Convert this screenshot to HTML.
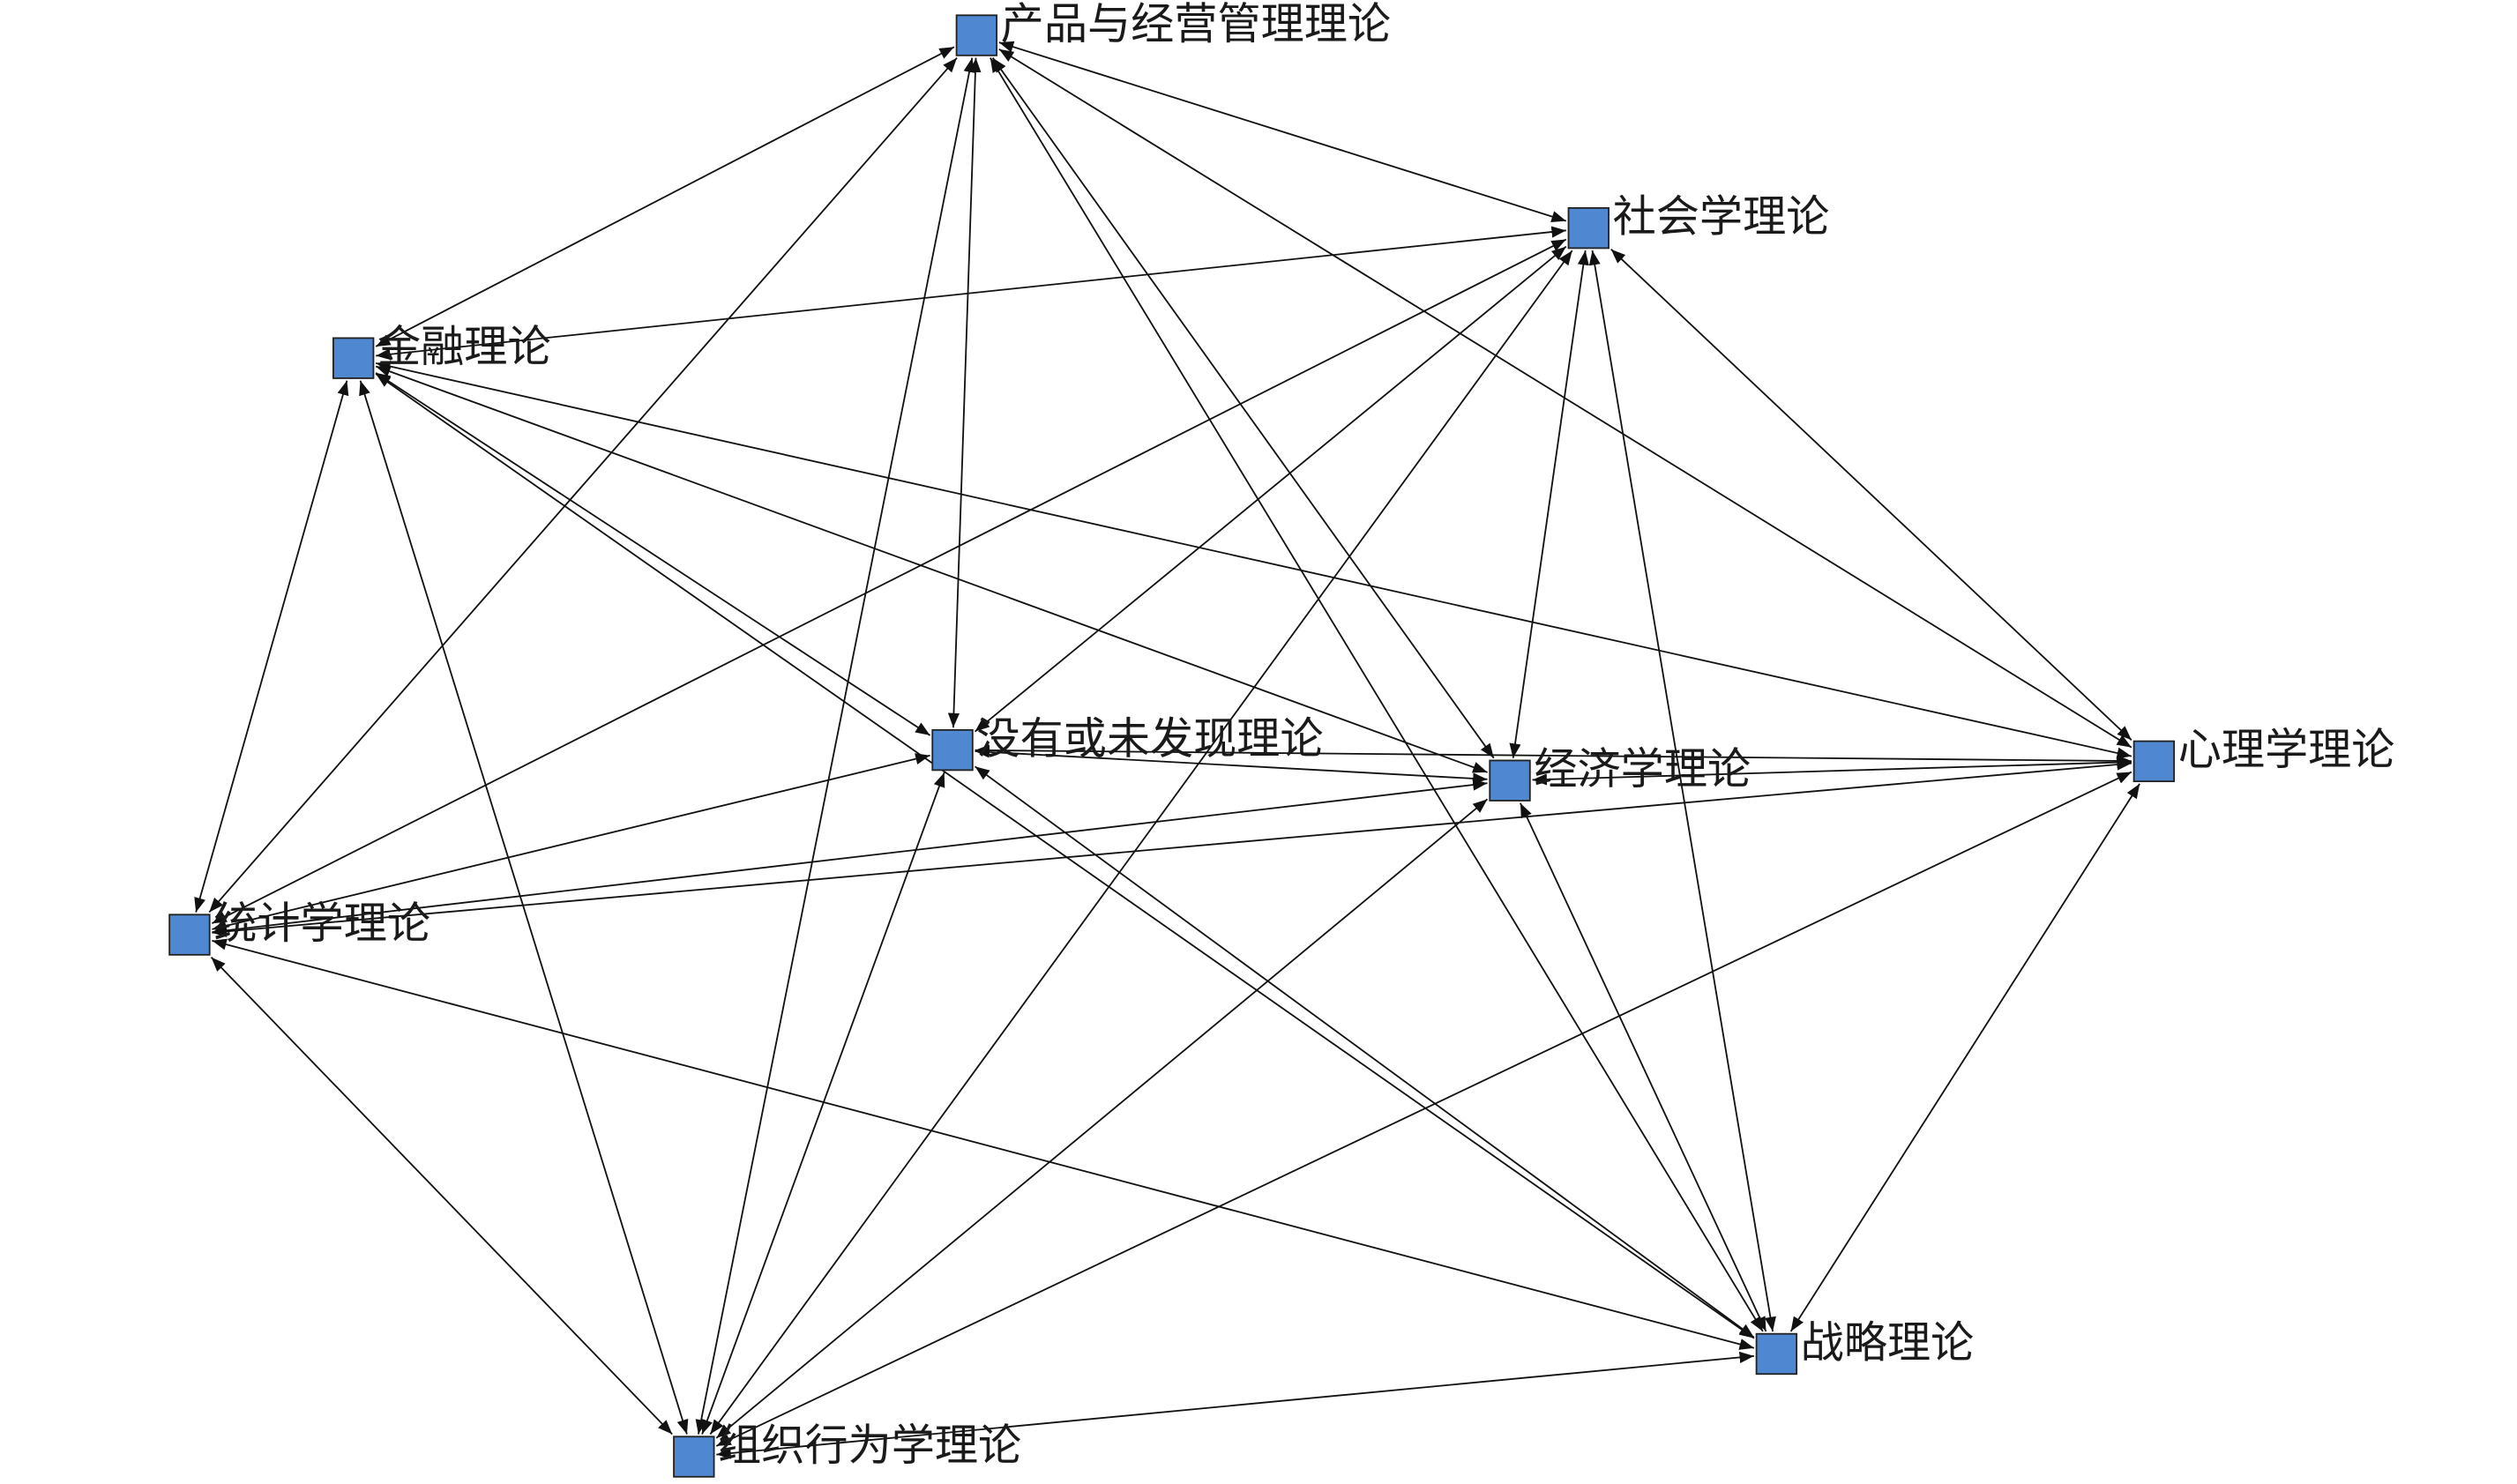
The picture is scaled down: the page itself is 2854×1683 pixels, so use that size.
<!DOCTYPE html>
<html><head><meta charset="utf-8"><style>
html,body{margin:0;padding:0;background:#fff;}
svg{display:block;}
text{font-family:"Liberation Sans","Noto Sans CJK SC","WenQuanYi Zen Hei",sans-serif;font-size:27px;fill:#1a1a1a;dominant-baseline:middle;}
</style></head><body>
<svg id="g" width="2854" height="1683" viewBox="0 0 1567 924" preserveAspectRatio="none" xmlns="http://www.w3.org/2000/svg">
<defs><marker id="a" viewBox="0 0 10 10" refX="10" refY="5" markerWidth="9" markerHeight="9" markerUnits="userSpaceOnUse" orient="auto-start-reverse"><path d="M0,1 L10,5 L0,9 z" fill="#111"/></marker></defs>
<g id="e" stroke="#111" stroke-width="1" fill="none"></g>
<g id="n"></g>
</svg>
<script>
var N=[["产品与经营管理理论",608,22],["社会学理论",989,142],["金融理论",220,223],["没有或未发现理论",593,467],["经济学理论",940,486],["心理学理论",1341,474],["统计学理论",118,582],["战略理论",1106,843],["组织行为学理论",432,907]];
var ns="http://www.w3.org/2000/svg",E=document.getElementById("e"),G=document.getElementById("n");
function clip(x1,y1,x2,y2){var dx=x2-x1,dy=y2-y1,h=14,t=Math.min(h/Math.abs(dx||1e-9),h/Math.abs(dy||1e-9));return [x1+dx*t,y1+dy*t];}
for(var i=0;i<N.length;i++)for(var j=i+1;j<N.length;j++){
 var a=N[i],b=N[j],p=clip(a[1],a[2],b[1],b[2]),q=clip(b[1],b[2],a[1],a[2]);
 var l=document.createElementNS(ns,"line");
 l.setAttribute("x1",p[0]);l.setAttribute("y1",p[1]);l.setAttribute("x2",q[0]);l.setAttribute("y2",q[1]);
 l.setAttribute("marker-start","url(#a)");l.setAttribute("marker-end","url(#a)");E.appendChild(l);}
N.forEach(function(d){
 var r=document.createElementNS(ns,"rect");r.setAttribute("x",d[1]-12.5);r.setAttribute("y",d[2]-12.5);r.setAttribute("width",25);r.setAttribute("height",25);
 r.setAttribute("fill","#4f87d0");r.setAttribute("stroke","#222");r.setAttribute("stroke-width","1");G.appendChild(r);
 var t=document.createElementNS(ns,"text");t.setAttribute("x",d[1]+15);t.setAttribute("y",d[2]-5);t.textContent=d[0];G.appendChild(t);});
</script>
</body></html>
